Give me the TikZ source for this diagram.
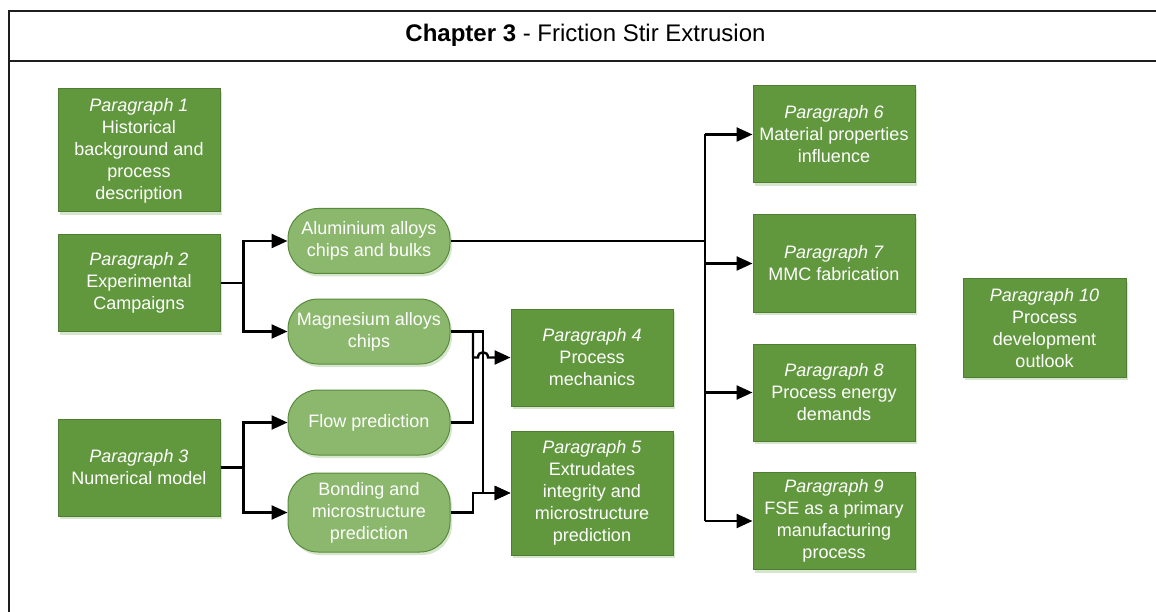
\documentclass[tikz,border=0pt]{standalone}
\usepackage{fontspec}
\setmainfont{Liberation Sans}
\usetikzlibrary{arrows.meta,shadows,calc}
\definecolor{parfill}{RGB}{97,152,62}
\definecolor{pardraw}{RGB}{80,125,52}
\definecolor{pillfill}{RGB}{139,184,109}
\definecolor{pilldraw}{RGB}{88,138,60}
\definecolor{glow}{RGB}{214,230,205}
\definecolor{framecol}{RGB}{30,30,30}
\begin{document}
\begin{tikzpicture}[x=1pt,y=-1pt,
  txt/.style={text=white, align=center, inner sep=0pt,
    font=\fontsize{18}{22}\selectfont},
  para/.style={txt, rectangle, draw=pardraw, line width=1pt, fill=parfill,
    minimum width=162pt, minimum height=97pt,
    drop shadow={shadow xshift=2pt, shadow yshift=-3pt, fill=glow, opacity=1}},
  pill/.style={txt, rectangle, rounded corners=30pt, draw=pilldraw, line width=1pt,
    fill=pillfill, minimum width=162pt, minimum height=65pt,
    drop shadow={shadow xshift=2pt, shadow yshift=-3pt, fill=glow, opacity=1}},
  wire/.style={line width=2.4pt, black},
  arr/.style={wire, -{Triangle[length=16pt,width=14pt]}},
  framing/.style={line width=1.6pt, framecol},
  title/.style={inner sep=0pt, font=\fontsize{24}{28}\selectfont}]
\useasboundingbox (0,0) rectangle (1156,612);

% chapter frame and heading
\draw[framing] (9,612) -- (9,11) -- (1156,11);
\draw[framing] (9,61) -- (1156,61);
\node[title] (title) at (585.5,35) {\textbf{Chapter 3} - Friction Stir Extrusion};

% paragraph boxes
\node[para, minimum height=123pt] (p1) at (139,150.5) {\textit{Paragraph 1}\\Historical\\background and\\process\\description};
\node[para] (p2) at (139,283) {\textit{Paragraph 2}\\Experimental\\Campaigns};
\node[para] (p3) at (139,467.5) {\textit{Paragraph 3}\\Numerical model};
\node[para] (p4) at (592,357.5) {\textit{Paragraph 4}\\Process\\mechanics};
\node[para, minimum height=124pt] (p5) at (592,493) {\textit{Paragraph 5}\\Extrudates\\integrity and\\microstructure\\prediction};
\node[para] (p6) at (834,134.5) {\textit{Paragraph 6}\\Material properties\\influence};
\node[para] (p7) at (834,263.5) {\textit{Paragraph 7}\\MMC fabrication};
\node[para] (p8) at (834,392.5) {\textit{Paragraph 8}\\Process energy\\demands};
\node[para] (p9) at (834,521) {\textit{Paragraph 9}\\FSE as a primary\\manufacturing\\process};
\node[para, minimum width=163pt, minimum height=98pt] (p10) at (1044.5,328) {\textit{Paragraph 10}\\Process\\development\\outlook};

% topic pills
\node[pill] (alu) at (369,241) {Aluminium alloys\\chips and bulks};
\node[pill] (mag) at (369,331.5) {Magnesium alloys\\chips};
\node[pill] (flow) at (369,422.5) {Flow prediction};
\node[pill, minimum height=79pt] (bond) at (369,512.5) {Bonding and\\microstructure\\prediction};

% branching x positions
\coordinate (xa) at (473,0);
\coordinate (xb) at (483,0);
\coordinate (bus) at (705,0);

% experimental campaigns
\draw[arr] (p2.east) -- ++(23,0) |- (alu.west);
\draw[arr] (p2.east) -- ++(23,0) |- (mag.west);
% numerical model
\draw[arr] (p3.east) -- ++(23,0) |- (flow.west);
\draw[arr] (p3.east) -- ++(23,0) |- (bond.west);

% aluminium alloys feed paragraphs 6 to 9
\draw[wire] (alu.east) -- (alu.east -| bus);
\draw[arr] (bus |- p6.west) -- (p6.west);
\draw[wire] (bus |- p6.west) -- (bus |- p9.west);
\draw[arr] (bus |- p7.west) -- (p7.west);
\draw[arr] (bus |- p8.west) -- (p8.west);
\draw[arr] (bus |- p9.west) -- (p9.west);

% magnesium alloys and numerical results
\draw[arr] (mag.east) -- (mag.east -| xb) |- (p5.west);
\draw[arr] (mag.east -| xa) -- (p4.west -| xa)
  -- ($(p4.west -| xb)+(-5,0)$) .. controls +(0,-7) and +(0,-7) .. ($(p4.west -| xb)+(5,0)$)
  -- (p4.west);
\draw[wire] (flow.east) -- (flow.east -| xa) -- (p4.west -| xa);
\draw[arr] (bond.east) -- (bond.east -| xa) |- (p5.west);
\end{tikzpicture}
\end{document}
